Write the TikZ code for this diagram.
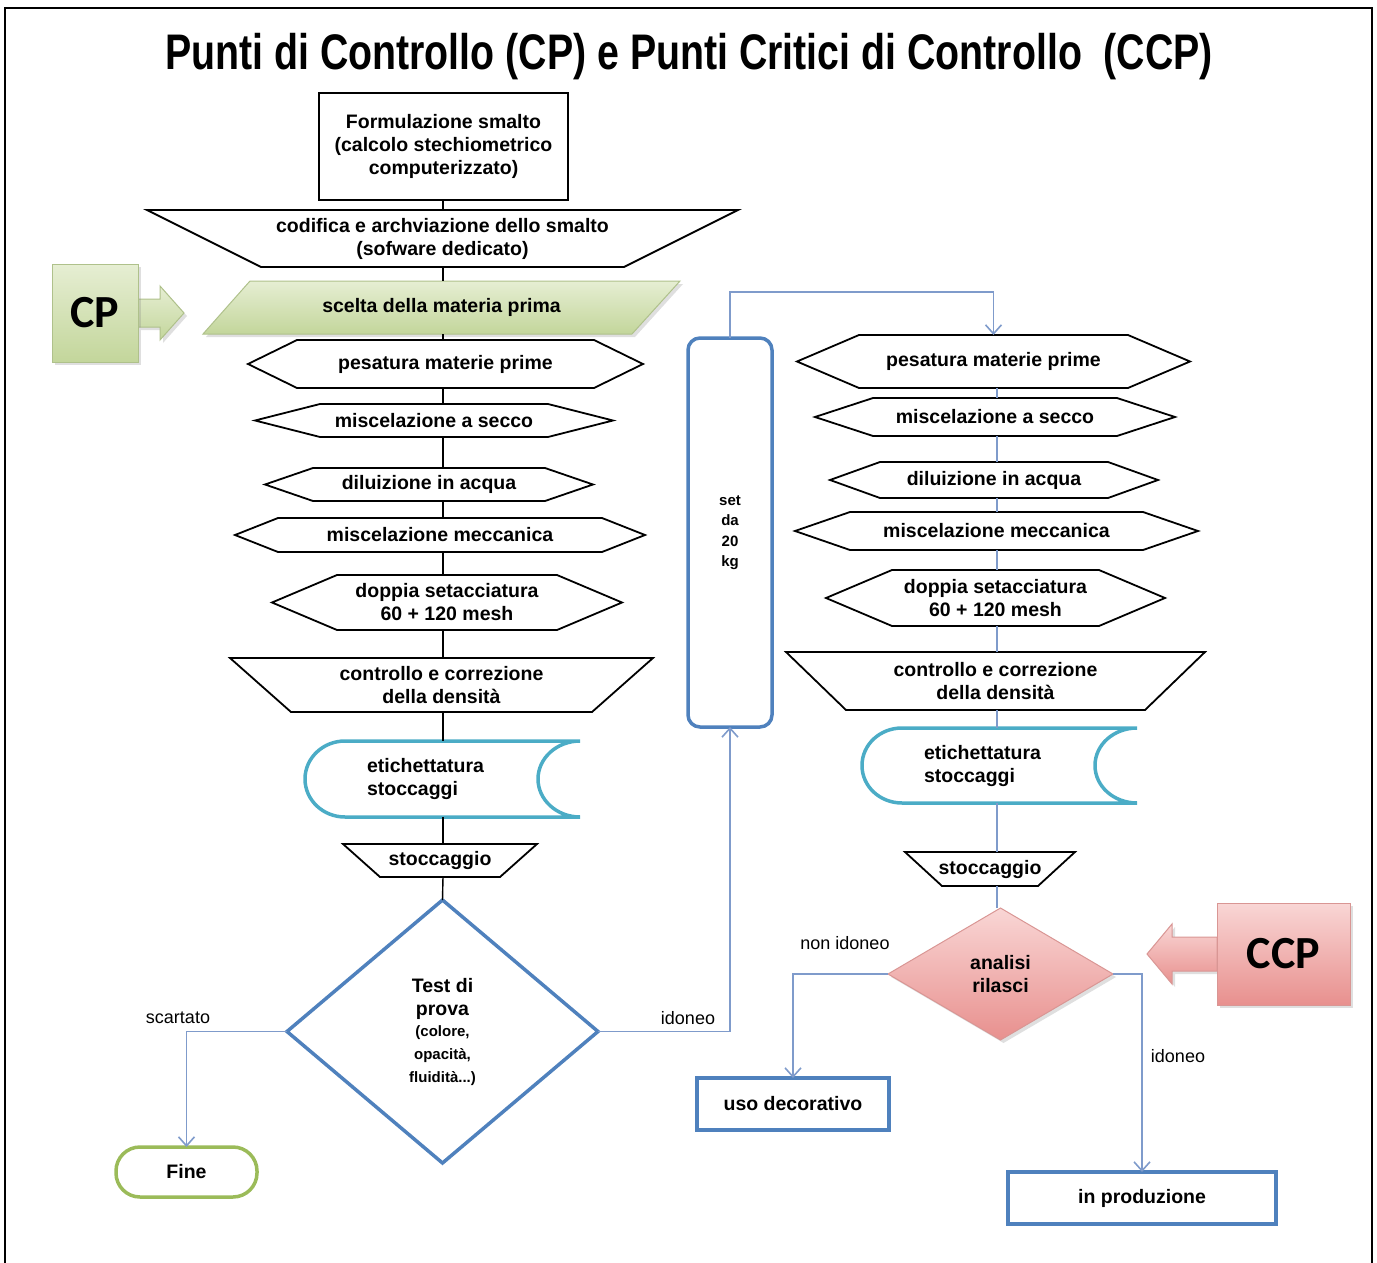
\documentclass[tikz,border=0pt]{standalone}
\usepackage{fontspec}
\usepackage{graphicx}
\setmainfont{Liberation Sans}
\newfontfamily\cpfont{Carlito}
\usetikzlibrary{arrows.meta,backgrounds,shadows}
\definecolor{offblue}{HTML}{4F81BD}
\definecolor{conblue}{HTML}{7F9BCB}
\definecolor{stoteal}{HTML}{4BACC6}
\definecolor{grnline}{HTML}{9BBB59}
\definecolor{grnA}{HTML}{E6EED3}
\definecolor{grnB}{HTML}{C3D69B}
\definecolor{pnkA}{HTML}{F9D6D5}
\definecolor{pnkB}{HTML}{E8908E}
\definecolor{pnkline}{HTML}{D99694}
\newcommand\hexa[2]{\draw[blk] (#1.west) -- ([xshift=#2]#1.north west) -- ([xshift=-#2]#1.north east) -- (#1.east) -- ([xshift=-#2]#1.south east) -- ([xshift=#2]#1.south west) -- cycle;}
\newcommand\trap[2]{\draw[blk] (#1.north west) -- (#1.north east) -- ([xshift=-#2]#1.south east) -- ([xshift=#2]#1.south west) -- cycle;}
\newcommand\stor[1]{\draw[draw=stoteal, line width=3.5pt] (#1.north east) -- ([xshift=40pt]#1.north west) .. controls ([xshift=18pt]#1.north west) and ([yshift=21pt]#1.west) .. (#1.west) .. controls ([yshift=-21pt]#1.west) and ([xshift=18pt]#1.south west) .. ([xshift=40pt]#1.south west) -- (#1.south east) .. controls ([xshift=-23pt]#1.south east) and ([xshift=-42pt,yshift=-21pt]#1.east) .. ([xshift=-42pt]#1.east) .. controls ([xshift=-42pt,yshift=21pt]#1.east) and ([xshift=-23pt]#1.north east) .. (#1.north east);}
\begin{document}
\begin{tikzpicture}[x=1pt,y=-1pt,
  frame/.style={inner sep=0pt, outer sep=0pt, font=\bfseries\fontsize{19.5}{23}\selectfont, align=center},
  blk/.style={draw=black, line width=1.8pt},
  conblk/.style={draw=black, line width=1.4pt},
  conb/.style={draw=conblue, line width=1.6pt},
  arr/.style={-{Straight Barb[length=9pt,width=16pt]}},
  lab/.style={inner sep=0pt, font=\fontsize{18}{20}\selectfont},
  bluebox/.style={frame, draw=offblue, line width=3.5pt},
  grnfill/.style={top color=grnA, bottom color=grnB, draw=grnB!90!black, line width=1pt},
  pnkfill/.style={top color=pnkA, bottom color=pnkB, draw=pnkline, line width=1pt},
  shad/.style={drop shadow={opacity=0.25, shadow xshift=3pt, shadow yshift=-3pt}}]
\useasboundingbox (0,0) rectangle (1377,1263);
\draw[black, line width=2.5pt] (5,1263) -- (5,8) -- (1372,8) -- (1372,1263);

\node[inner sep=0pt] (title) at (689,57) {\scalebox{0.786}[1]{\bfseries\fontsize{50}{55}\selectfont Punti di Controllo (CP) e Punti Critici di Controllo\ \ (CCP)}};

% ---------- left column ----------
\coordinate (lx) at (443,0);
\coordinate (rx) at (997,0);
\node[frame, draw, line width=1.8pt, minimum width=249pt, minimum height=107pt] (form) at (443.5,146.5) {Formulazione smalto\\(calcolo stechiometrico\\computerizzato)};
\node[frame, minimum width=591pt, minimum height=57pt] (cod) at (442.5,238.5) {codifica e archviazione dello smalto\\(sofware dedicato)};
\trap{cod}{114pt}
\node[frame, minimum width=477pt, minimum height=53pt] (sce) at (441.5,307.5) {scelta della materia prima};
\node[frame, grnfill, shad, minimum width=86pt, minimum height=98pt, font=\cpfont\bfseries\fontsize{46}{46}\selectfont] (cp) at (95,313) {CP};
\begin{scope}[on background layer]
\draw[grnfill, shad] ([xshift=47pt]sce.north west) -- (sce.north east) -- ([xshift=-48pt]sce.south east) -- (sce.south west) -- cycle;
\draw[grnfill, shad] ([yshift=14pt]cp.east) -- ++(22,0) -- ++(0,-13) -- ++(24,27) -- ++(-24,27) -- ++(0,-13) -- ++(-22,0) -- cycle;
\end{scope}

\node[frame, minimum width=395pt, minimum height=48pt] (pes) at (445.5,364) {pesatura materie prime};
\hexa{pes}{49pt}
\node[frame, minimum width=358pt, minimum height=33pt] (misA) at (434,420.5) {miscelazione a secco};
\hexa{misA}{65pt}
\node[frame, minimum width=328pt, minimum height=33pt] (dil) at (429,484.5) {diluizione in acqua};
\hexa{dil}{48pt}
\node[frame, minimum width=410pt, minimum height=34pt] (mec) at (440,535) {miscelazione meccanica};
\hexa{mec}{43pt}
\node[frame, minimum width=350pt, minimum height=55pt] (dop) at (447,602.5) {doppia setacciatura\\60 + 120 mesh};
\hexa{dop}{65pt}
\node[frame, minimum width=423pt, minimum height=54pt] (con) at (441.5,685) {controllo e correzione\\della densità};
\trap{con}{61pt}
\node[frame, minimum width=275pt, minimum height=76pt] (eti) at (442.5,779) {};
\stor{eti}
\node[frame, align=left, anchor=west] (etiT) at ([xshift=62pt]eti.west) {etichettatura\\stoccaggi};
\node[frame, minimum width=194pt, minimum height=33pt] (sto) at (440,860.5) {stoccaggio};
\trap{sto}{37pt}
\node[frame, minimum width=311pt, minimum height=263pt] (test) at (442.5,1031.5) {Test di\\prova\\[-2pt]{\fontsize{15}{21}\selectfont (colore,}\\{\fontsize{15}{21}\selectfont opacità,}\\{\fontsize{15}{21}\selectfont fluidità...)}};
\draw[draw=offblue, line width=3.5pt] (test.north) -- (test.east) -- (test.south) -- (test.west) -- cycle;

\draw[conblk] (lx |- form.south) -- (lx |- cod.north);
\draw[conblk] (lx |- cod.south) -- (lx |- sce.north);
\draw[conblk] (lx |- sce.south) -- (lx |- pes.north);
\draw[conblk] (lx |- pes.south) -- (lx |- misA.north);
\draw[conblk] (lx |- misA.south) -- (lx |- dil.north);
\draw[conblk] (lx |- dil.south) -- (lx |- mec.north);
\draw[conblk] (lx |- mec.south) -- (lx |- dop.north);
\draw[conblk] (lx |- dop.south) -- (lx |- con.north);
\draw[conblk] (lx |- con.south) -- (lx |- eti.north);
\draw[conblk] (lx |- eti.south) -- (lx |- sto.north);
\draw[conblk] (lx |- sto.south) -- (test.north);

\node[frame, draw=grnline, line width=3.5pt, rounded corners=24pt, minimum width=141pt, minimum height=50pt] (fine) at (186.5,1172) {Fine};
\draw[conb, arr] (test.west) -| (fine.north);
\node[lab] (lscart) at (178,1018) {scartato};

\node[bluebox, rounded corners=12pt, minimum width=84pt, minimum height=389pt, font=\bfseries\fontsize{15}{20.5}\selectfont] (set) at (730,532.5) {set\\da\\20\\kg};
\draw[conb, arr] (test.east) -| (set.south);
\node[lab] (lido1) at (688,1018) {idoneo};

% ---------- right column ----------
\node[frame, minimum width=393pt, minimum height=53pt] (rpes) at (993.5,361.5) {pesatura materie prime};
\hexa{rpes}{62pt}
\coordinate (loopA) at (730,292);
\draw[conb, arr] (set.north) -- (loopA) -| (rpes.north);
\node[frame, minimum width=360pt, minimum height=38pt] (rmisA) at (995,417) {miscelazione a secco};
\hexa{rmisA}{58pt}
\node[frame, minimum width=328pt, minimum height=36pt] (rdil) at (994,480) {diluizione in acqua};
\hexa{rdil}{50pt}
\node[frame, minimum width=403pt, minimum height=38pt] (rmec) at (996.5,531) {miscelazione meccanica};
\hexa{rmec}{55pt}
\node[frame, minimum width=339pt, minimum height=56pt] (rdop) at (995.5,598) {doppia setacciatura\\60 + 120 mesh};
\hexa{rdop}{66pt}
\node[frame, minimum width=419pt, minimum height=58pt] (rcon) at (995.5,681) {controllo e correzione\\della densità};
\trap{rcon}{60pt}
\node[frame, minimum width=275pt, minimum height=75pt] (reti) at (999.5,765.5) {};
\stor{reti}
\node[frame, align=left, anchor=west] (retiT) at ([xshift=62pt]reti.west) {etichettatura\\stoccaggi};
\node[frame, minimum width=170pt, minimum height=34pt] (rsto) at (990,869) {stoccaggio};
\trap{rsto}{37pt}
\node[frame, minimum width=225pt, minimum height=132pt] (ana) at (1000.5,974) {analisi\\rilasci};
\node[frame, pnkfill, shad, minimum width=133pt, minimum height=102pt, font=\cpfont\bfseries\fontsize{46}{46}\selectfont] (ccp) at (1283.5,954) {CCP};
\begin{scope}[on background layer]
\draw[pnkfill, shad] (ana.north) -- (ana.east) -- (ana.south) -- (ana.west) -- cycle;
\draw[pnkfill, shad] ([yshift=17pt]ccp.west) -- ++(-45,0) -- ++(0,-13) -- ++(-25,30) -- ++(25,30) -- ++(0,-13) -- ++(45,0) -- cycle;
\end{scope}

\draw[conb] (rx |- rpes.south) -- (rx |- rmisA.north);
\draw[conb] (rx |- rmisA.south) -- (rx |- rdil.north);
\draw[conb] (rx |- rdil.south) -- (rx |- rmec.north);
\draw[conb] (rx |- rmec.south) -- (rx |- rdop.north);
\draw[conb] (rx |- rdop.south) -- (rx |- rcon.north);
\draw[conb] (rx |- rcon.south) -- (rx |- reti.north);
\draw[conb] (rx |- reti.south) -- (rx |- rsto.north);
\draw[conb] (rx |- rsto.south) -- (rx |- ana.north);

\node[bluebox, minimum width=192pt, minimum height=52pt] (uso) at (793,1104) {uso decorativo};
\node[bluebox, minimum width=268pt, minimum height=52pt] (prod) at (1142,1198) {in produzione};
\draw[conb, arr] (ana.west) -| (uso.north);
\draw[conb, arr] (ana.east) -| (prod.north);
\node[lab] (lnon) at (845,943) {non idoneo};
\node[lab] (lido2) at (1178,1056) {idoneo};
\end{tikzpicture}
\end{document}
